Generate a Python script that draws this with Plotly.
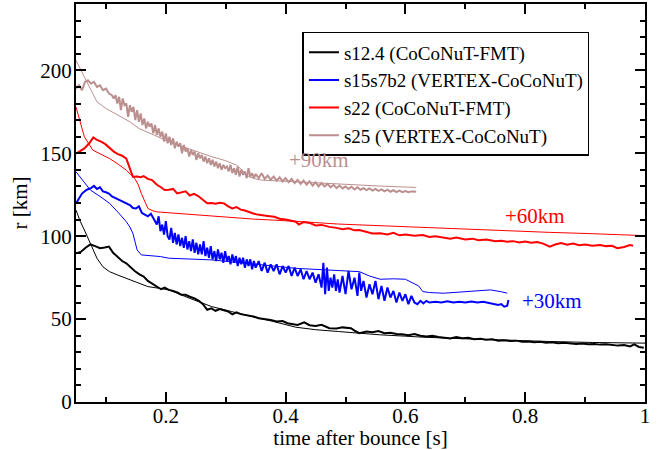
import plotly.graph_objects as go

# ---------------- data ----------------
# s12.4 (CoCoNuT-FMT) thick
t_s12_thick = [0.050,0.058,0.066,0.074,0.082,0.090,0.098,0.105,0.112,0.120,0.127,0.134,0.141,0.148,0.156,0.163,0.170,0.177,0.184,0.192,0.198,0.205,0.212,0.220,0.226,0.233,0.240,0.248,0.255,0.262,0.269,0.276,0.283,0.290,0.297,0.304,0.311,0.318,0.325,0.335,0.346,0.355,0.365,0.375,0.385,0.395,0.403,0.412,0.420,0.431,0.440,0.450,0.460,0.473,0.485,0.495,0.509,0.515,0.523,0.535,0.545,0.555,0.565,0.575,0.585,0.594,0.605,0.615,0.625,0.635,0.645,0.655,0.664,0.675,0.685,0.695,0.705,0.715,0.725,0.735,0.745,0.755,0.765,0.775,0.785,0.795,0.806,0.815,0.825,0.835,0.845,0.855,0.865,0.876,0.885,0.895,0.905,0.915,0.925,0.935,0.947,0.955,0.965,0.975,0.982,0.990,0.998]
r_s12_thick = [89.7,90.5,93,95,94,92.7,93.2,93.7,90,87,85,83.6,81,79,77,75.6,73,71.5,69.6,68,69,67.6,67,66,64.6,64.6,63.5,62.5,61,59,55.6,56.5,55,56,55.3,54.6,52.8,54,53,52.5,51.6,50.5,50,49.5,48.5,48.8,47.5,47,46.5,48,46.3,45.8,46.5,44.5,44.3,45,44.5,43,41.5,42.5,42,42.8,41.5,41.8,41,40.9,40.2,41,40,39.5,40,39.2,38.9,38.3,39.2,38.5,38.8,37.9,38.2,37.5,37.8,37,37.3,36.8,37,36.3,36.5,36,36.3,35.8,36,35.5,35.7,35.5,35,35.3,34.8,35,34.6,34.8,34.5,34,34.3,33.5,34.8,33.2,32.7]
# s12.4 thin
t_s12_thin = [0.050,0.057,0.064,0.075,0.085,0.095,0.106,0.120,0.134,0.150,0.170,0.190,0.205,0.240,0.276,0.310,0.346,0.380,0.417,0.450,0.488,0.520,0.558,0.600,0.629,0.700,0.771,0.840,0.912,1.000]
r_s12_thin = [115.7,109,103.7,95,86.7,81.5,78.6,76.5,74.6,72,69.6,68.5,67.6,62.5,57.6,54.5,51.6,48.5,45.1,43.6,42.5,41.5,40.5,39.7,39.1,38.1,37.1,36.5,35.9,35.5]

# s15s7b2 (VERTEX-CoCoNuT) thick
t_s15_thick = [0.050,0.055,0.060,0.068,0.075,0.080,0.085,0.090,0.095,0.100,0.105,0.110,0.117,0.125,0.133,0.140,0.145,0.150,0.155,0.160,0.165,0.170,0.175,0.180,0.185,0.188,0.191,0.194,0.197,0.200,0.203,0.206,0.209,0.212,0.215,0.218,0.221,0.224,0.227,0.230,0.233,0.236,0.239,0.242,0.245,0.248,0.251,0.254,0.257,0.260,0.263,0.266,0.269,0.272,0.275,0.278,0.281,0.284,0.287,0.290,0.293,0.296,0.299,0.302,0.305,0.308,0.311,0.314,0.317,0.320,0.323,0.326,0.329,0.332,0.335,0.338,0.341,0.344,0.347,0.350,0.355,0.360,0.365,0.370,0.375,0.380,0.385,0.390,0.395,0.400,0.405,0.410,0.415,0.420,0.425,0.430,0.435,0.440,0.445,0.450,0.455,0.460,0.463,0.466,0.469,0.472,0.475,0.478,0.481,0.484,0.487,0.490,0.495,0.500,0.505,0.510,0.515,0.520,0.523,0.526,0.530,0.535,0.540,0.545,0.550,0.555,0.560,0.565,0.570,0.575,0.580,0.585,0.590,0.595,0.600,0.605,0.610,0.615,0.620,0.625,0.630,0.635,0.640,0.650,0.660,0.670,0.680,0.690,0.700,0.710,0.720,0.730,0.740,0.750,0.755,0.760,0.765,0.770,0.772]
r_s15_thick = [119.7,123,125.7,128,129,130.3,128.5,129.5,127,126.5,125.7,124,122.7,121.5,119.7,118.8,117,116.7,118,114,113,112,113.5,110,107,112,103,107,101,109,100,98,105,96,102,95,101,94,99,93,100,92,97,91,98,90,96,89,95,89,97,88,93,87,94,86,91,85,92,86,90,84,91,85,88,83,89,84,88,82,87,83,87,81,86,82,86,80,85,81,85,79,84,78,83,79,83,77,82,78,82,76,81,76,80,74,79,74,78,72,77,69,84,65,81,67,75,69,77,67,74,66,76,65,79,68,75,64,78,67,73,63,71,65,73,62,70,61,69,63,67,60,66,61,65,59,64,60,59,61,59.5,61,60,60.5,60,60.8,60,60.5,60,60.6,60,60.4,59.5,59,58.5,59,57.5,58,61.5]
# s15s7b2 thin
t_s15_thin = [0.050,0.060,0.074,0.090,0.106,0.120,0.134,0.140,0.145,0.149,0.152,0.159,0.175,0.191,0.205,0.240,0.276,0.310,0.346,0.380,0.417,0.450,0.481,0.500,0.523,0.540,0.558,0.580,0.600,0.611,0.622,0.629,0.640,0.664,0.690,0.715,0.742,0.760,0.770]
r_s15_thin = [138.8,134,127.8,124,119.8,114.5,108.7,105.5,101.7,96,91.7,88.7,88.2,87.7,86.7,86.2,85.7,84.5,83,82,80.6,80.1,79.6,79,78.6,76,74,74.3,74,72,70,66.6,66,65.6,66.2,66.6,67.6,66.5,65.6]

# s22 (CoCoNuT-FMT) thick
t_s22_thick = [0.050,0.058,0.064,0.072,0.079,0.085,0.092,0.099,0.106,0.113,0.120,0.127,0.134,0.140,0.145,0.152,0.158,0.163,0.170,0.177,0.185,0.192,0.198,0.205,0.212,0.219,0.226,0.233,0.240,0.247,0.254,0.261,0.269,0.276,0.283,0.290,0.297,0.304,0.311,0.318,0.325,0.332,0.339,0.346,0.353,0.360,0.370,0.381,0.390,0.400,0.410,0.417,0.422,0.430,0.440,0.450,0.460,0.473,0.485,0.495,0.505,0.515,0.523,0.535,0.545,0.558,0.570,0.580,0.590,0.600,0.615,0.629,0.640,0.650,0.664,0.675,0.685,0.700,0.712,0.722,0.735,0.750,0.760,0.770,0.780,0.790,0.800,0.810,0.820,0.830,0.841,0.850,0.860,0.870,0.880,0.890,0.900,0.912,0.925,0.935,0.945,0.954,0.965,0.975,0.980]
r_s22_thick = [149.8,151.5,152.9,156,159.5,158,157,155.5,153,151,149.5,148.5,146.8,141,135.8,136,135.5,136.2,134.5,133.8,131,129.5,127.8,128,128.5,125.8,126.5,127,124.5,125.5,124.2,122,119.8,120,119.5,120.2,119.8,118,116.7,117.5,116,115.5,114.5,113.7,113,112.5,112.2,111.7,110.5,110,109,108.7,107,108.5,108,106.5,106.8,105.6,105,104.2,104.8,103.5,103.7,102.5,101.6,101.7,101,102,100.5,101,100.2,100.7,99.5,100,99.3,98.5,99.2,98,98.5,97.5,98,97,97.3,96.7,97,96.2,96.8,96,96.5,95.5,93.7,95,95.8,94.8,95.5,94.5,95,94.2,94.7,94,94.2,92.7,93.5,94.7,94.2]
# s22 thin
t_s22_thin = [0.050,0.057,0.064,0.078,0.092,0.106,0.120,0.134,0.148,0.154,0.159,0.165,0.170,0.177,0.184,0.205,0.240,0.276,0.310,0.346,0.380,0.417,0.450,0.488,0.560,0.629,0.700,0.770,0.840,0.912,1.000]
r_s22_thin = [177.9,168,159.9,151.9,149.5,146.8,143.5,139.8,134.8,131,125.8,121,116.7,115.5,114.7,114.1,113.1,112.1,111.2,110.3,109.7,109.1,108.2,107.3,106.2,105.1,104.1,103.1,102.3,101.5,100.3]

# s25 (VERTEX-CoCoNuT) thick
t_s25_thick = [0.050,0.055,0.060,0.065,0.070,0.075,0.080,0.085,0.090,0.095,0.100,0.105,0.110,0.113,0.116,0.119,0.122,0.125,0.128,0.131,0.134,0.137,0.140,0.143,0.146,0.149,0.152,0.155,0.158,0.161,0.164,0.167,0.170,0.173,0.176,0.179,0.182,0.185,0.188,0.191,0.194,0.197,0.200,0.203,0.206,0.209,0.212,0.215,0.218,0.221,0.224,0.227,0.230,0.233,0.236,0.239,0.242,0.245,0.248,0.251,0.254,0.257,0.260,0.263,0.266,0.269,0.272,0.275,0.278,0.281,0.284,0.287,0.290,0.293,0.296,0.299,0.302,0.305,0.308,0.311,0.314,0.317,0.320,0.323,0.326,0.329,0.332,0.335,0.338,0.341,0.344,0.347,0.350,0.355,0.360,0.365,0.370,0.375,0.380,0.385,0.390,0.395,0.400,0.405,0.410,0.415,0.420,0.425,0.430,0.435,0.440,0.445,0.450,0.455,0.460,0.465,0.470,0.475,0.480,0.485,0.490,0.495,0.500,0.505,0.510,0.515,0.520,0.525,0.530,0.535,0.540,0.545,0.550,0.555,0.560,0.565,0.570,0.575,0.580,0.585,0.590,0.595,0.600,0.605,0.610,0.614,0.618]
r_s25_thick = [189,191,188,193,194,192,193,190,191,188,189,186,185,183,185,180,184,176,183,179,180,172,179,175,178,170,176,169,174,167,171,165,169,166,168,162,167,161,165,160,163,157,162,156,160,155,159,153,157,154,156,150,155,151,153,148,152,149,151,146,150,147,149,145,148,144,147,143,146,142,145,141,144,140,143,141,142,139,143,138,141,137,142,136,140,137,139,135,141,136,138,135,137.5,135,138,134.5,136.5,134,136,133.5,135.5,133,135,132.5,134.5,132,134,131.5,133.5,131,133,130.5,132.5,130,132,130,131.5,129.5,131,129,130.5,128.8,130,128.5,129.8,128.2,129.5,128,129,127.8,128.8,127.5,128.5,127.3,128.2,127,128,126.8,127.8,126.6,127.5,126.5,127.2,126.5,127,126.7,126.8]
# s25 thin
t_s25_thin = [0.050,0.057,0.064,0.075,0.085,0.100,0.120,0.140,0.155,0.180,0.205,0.240,0.276,0.300,0.318,0.330,0.339,0.350,0.360,0.417,0.488,0.558,0.618]
r_s25_thin = [206,201,196,188,181,177,173,169,165,161,157,152.5,148,145.5,142.8,139,135.8,134.5,133.8,132.8,131.4,130.2,129.4]

legend_names = ["s12.4 (CoCoNuT-FMT)", "s15s7b2 (VERTEX-CoCoNuT)", "s22 (CoCoNuT-FMT)", "s25 (VERTEX-CoCoNuT)"]
colors = ["#000000", "#0000ff", "#ff0000", "#bc8f8f"]

offset_labels = ["+90km", "+60km", "+30km"]
offset_x = [0.456, 0.816, 0.845]
offset_y = [145.8, 112, 61]
offset_colors = ["#bc8f8f", "#ff0000", "#0000ff"]

FONT = "Liberation Serif"

fig = go.Figure()
thick = [(t_s12_thick, r_s12_thick), (t_s15_thick, r_s15_thick), (t_s22_thick, r_s22_thick), (t_s25_thick, r_s25_thick)]
thin = [(t_s12_thin, r_s12_thin), (t_s15_thin, r_s15_thin), (t_s22_thin, r_s22_thin), (t_s25_thin, r_s25_thin)]

for (tx, ry), c in zip(thin, colors):
    fig.add_trace(go.Scatter(x=tx, y=ry, mode="lines", line=dict(color=c, width=1), showlegend=False, hoverinfo="skip"))
for (tx, ry), c, n in zip(thick, colors, legend_names):
    fig.add_trace(go.Scatter(x=tx, y=ry, mode="lines", line=dict(color=c, width=2), name=n))

for lab, xx, yy, cc in zip(offset_labels, offset_x, offset_y, offset_colors):
    fig.add_annotation(x=xx, y=yy, text=lab, showarrow=False, font=dict(family=FONT, size=21, color=cc))

axis_common = dict(
    showgrid=False, zeroline=False, showline=True, linecolor="black", linewidth=2,
    mirror="ticks", ticks="inside", ticklen=10, tickwidth=1.5, tickcolor="black",
    tickfont=dict(family=FONT, size=21, color="black"), automargin=False,
)
fig.update_xaxes(range=[0.05, 1.0], tickvals=[0.2, 0.4, 0.6, 0.8, 1.0], ticktext=["0.2", "0.4", "0.6", "0.8", "1"],
                 minor=dict(tickvals=[0.1, 0.3, 0.5, 0.7, 0.9], ticks="inside", ticklen=5, tickwidth=1.5, tickcolor="black"),
                 title=dict(text="time after bounce [s]", font=dict(family=FONT, size=21, color="black"), standoff=0),
                 ticklabelstandoff=-6,
                 **axis_common)
fig.update_yaxes(range=[0, 240], tickvals=[0, 50, 100, 150, 200],
                 minor=dict(dtick=10, ticks="inside", ticklen=5, tickwidth=1.5, tickcolor="black"),
                 title=dict(text="r [km]", font=dict(family=FONT, size=21, color="black"), standoff=7),
                 ticklabelstandoff=-2,
                 **axis_common)

fig.update_layout(
    width=664, height=450,
    margin=dict(l=76, r=19, t=4, b=48),
    plot_bgcolor="white", paper_bgcolor="white",
    font=dict(family=FONT, size=21, color="black"),
    legend=dict(x=0.398, y=0.93, xanchor="left", yanchor="top", bgcolor="white",
                bordercolor="black", borderwidth=1.5, font=dict(family=FONT, size=19),
                tracegroupgap=0, itemwidth=30),
)

fig.write_html("out.html", config={"displayModeBar": False},
               post_script="document.body.style.margin='0';document.body.style.padding='0';document.body.style.overflow='hidden';")
